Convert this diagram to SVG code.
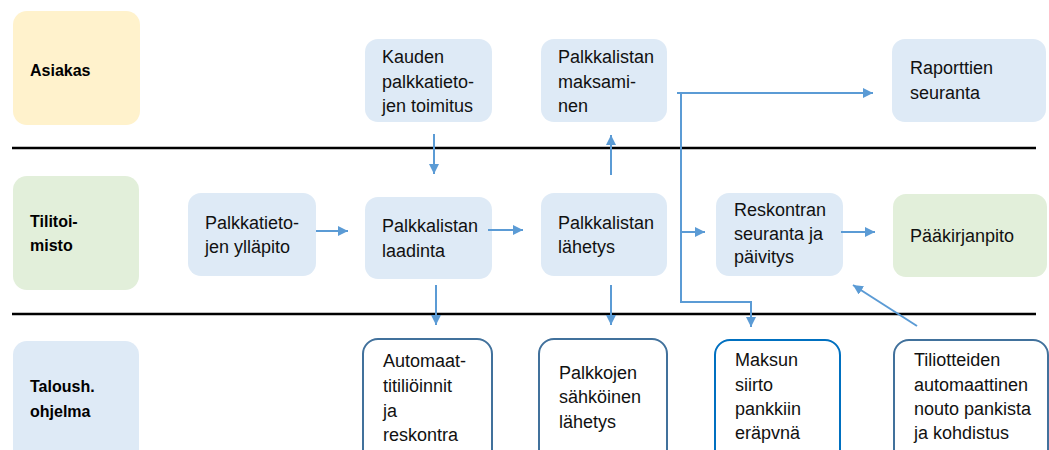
<svg xmlns="http://www.w3.org/2000/svg" width="1049" height="450" viewBox="0 0 1049 450">
  <defs>
    <marker id="arrow" viewBox="0 0 10 10" refX="10" refY="5" markerWidth="10" markerHeight="10" markerUnits="userSpaceOnUse" orient="auto">
      <path d="M0,0 L10,5 L0,10 z" fill="#5B9BD5"/>
    </marker>
    <style>
      .lane { font-family: "Liberation Sans", Arial, sans-serif; font-size: 16px; font-weight: bold; fill: #000; }
      .txt { font-family: "Liberation Sans", Arial, sans-serif; font-size: 18px; fill: #111; }
      .yellow { fill: #FFF2CC; }
      .green { fill: #E2EFDA; }
      .blue { fill: #DEEAF6; }
      .out { fill: #FFFFFF; stroke: #41719C; stroke-width: 2; }
      .out2 { fill: #FFFFFF; stroke: #0070C0; stroke-width: 2; }
      .sep { stroke: #000; stroke-width: 2.5; }
      .conn { fill: none; stroke: #5B9BD5; stroke-width: 2; }
    </style>
  </defs>

  <!-- lane separators -->
  <g id="separators">
    <line class="sep" x1="12" y1="148" x2="1036" y2="148"/>
    <line class="sep" x1="12" y1="314" x2="1036" y2="314"/>
  </g>

  <!-- lane headers -->
  <g id="lane-asiakas">
    <rect class="yellow" x="13" y="11" width="127" height="114" rx="14"/>
    <text class="lane" x="30" y="76">Asiakas</text>
  </g>
  <g id="lane-tilitoimisto">
    <rect class="green" x="13" y="176" width="126" height="114" rx="14"/>
    <text class="lane" x="30" y="227">Tilitoi-</text>
    <text class="lane" x="30" y="251">misto</text>
  </g>
  <g id="lane-taloush">
    <rect class="blue" x="13" y="341" width="126" height="125" rx="14"/>
    <text class="lane" x="30" y="392">Taloush.</text>
    <text class="lane" x="30" y="417">ohjelma</text>
  </g>

  <!-- row 1 -->
  <g id="kauden">
    <rect class="blue" x="365" y="39" width="127" height="83" rx="13"/>
    <text class="txt" x="382" y="63">Kauden</text>
    <text class="txt" x="382" y="88">palkkatieto-</text>
    <text class="txt" x="382" y="112">jen toimitus</text>
  </g>
  <g id="maksaminen">
    <rect class="blue" x="541" y="39" width="126" height="83" rx="13"/>
    <text class="txt" x="558" y="63">Palkkalistan</text>
    <text class="txt" x="558" y="88">maksami-</text>
    <text class="txt" x="558" y="112">nen</text>
  </g>
  <g id="raporttien">
    <rect class="blue" x="892" y="39" width="154" height="83" rx="13"/>
    <text class="txt" x="910" y="74">Raporttien</text>
    <text class="txt" x="910" y="99">seuranta</text>
  </g>

  <!-- row 2 -->
  <g id="yllapito">
    <rect class="blue" x="188" y="193" width="128" height="83" rx="13"/>
    <text class="txt" x="205" y="229">Palkkatieto-</text>
    <text class="txt" x="205" y="253">jen ylläpito</text>
  </g>
  <g id="laadinta">
    <rect class="blue" x="365" y="197" width="127" height="82" rx="13"/>
    <text class="txt" x="382" y="232">Palkkalistan</text>
    <text class="txt" x="382" y="257">laadinta</text>
  </g>
  <g id="lahetys">
    <rect class="blue" x="541" y="193" width="126" height="83" rx="13"/>
    <text class="txt" x="558" y="229">Palkkalistan</text>
    <text class="txt" x="558" y="253">lähetys</text>
  </g>
  <g id="reskontra">
    <rect class="blue" x="716" y="193" width="127" height="83" rx="13"/>
    <text class="txt" x="734" y="216">Reskontran</text>
    <text class="txt" x="734" y="240">seuranta ja</text>
    <text class="txt" x="734" y="263">päivitys</text>
  </g>
  <g id="paakirjanpito">
    <rect class="green" x="893" y="194" width="154" height="83" rx="13"/>
    <text class="txt" x="910" y="242">Pääkirjanpito</text>
  </g>

  <!-- row 3 -->
  <g id="automaattitilioinnit">
    <rect class="out" x="363" y="339" width="129" height="125" rx="15"/>
    <text class="txt" x="383" y="367">Automaat-</text>
    <text class="txt" x="383" y="392">titiliöinnit</text>
    <text class="txt" x="383" y="417">ja</text>
    <text class="txt" x="383" y="441">reskontra</text>
  </g>
  <g id="palkkojen">
    <rect class="out" x="539" y="339" width="128" height="125" rx="15"/>
    <text class="txt" x="559" y="379">Palkkojen</text>
    <text class="txt" x="559" y="403">sähköinen</text>
    <text class="txt" x="559" y="428">lähetys</text>
  </g>
  <g id="maksun-siirto">
    <rect class="out2" x="715" y="340" width="125" height="124" rx="15"/>
    <text class="txt" x="735" y="366">Maksun</text>
    <text class="txt" x="735" y="391">siirto</text>
    <text class="txt" x="735" y="415">pankkiin</text>
    <text class="txt" x="735" y="439">eräpvnä</text>
  </g>
  <g id="tiliotteiden">
    <rect class="out" x="894" y="340" width="154" height="124" rx="15"/>
    <text class="txt" x="914" y="366">Tiliotteiden</text>
    <text class="txt" x="914" y="391">automaattinen</text>
    <text class="txt" x="914" y="415">nouto pankista</text>
    <text class="txt" x="914" y="439">ja kohdistus</text>
  </g>

  <!-- connectors -->
  <g id="connectors">
    <line class="conn" x1="434" y1="134" x2="434" y2="174" marker-end="url(#arrow)"/>
    <line class="conn" x1="611" y1="175" x2="611" y2="135" marker-end="url(#arrow)"/>
    <line class="conn" x1="316" y1="231" x2="348" y2="231" marker-end="url(#arrow)"/>
    <line class="conn" x1="488" y1="230" x2="523" y2="230" marker-end="url(#arrow)"/>
    <line class="conn" x1="841" y1="232" x2="875" y2="232" marker-end="url(#arrow)"/>
    <line class="conn" x1="436" y1="285" x2="436" y2="325" marker-end="url(#arrow)"/>
    <line class="conn" x1="611" y1="285" x2="611" y2="325" marker-end="url(#arrow)"/>
    <line class="conn" x1="677" y1="93" x2="873" y2="93" marker-end="url(#arrow)"/>
    <polyline class="conn" points="681,93 681,302 751,302 751,327" marker-end="url(#arrow)"/>
    <line class="conn" x1="681" y1="232" x2="705" y2="232" marker-end="url(#arrow)"/>
    <line class="conn" x1="917" y1="326" x2="853" y2="285" marker-end="url(#arrow)"/>
  </g>
</svg>
